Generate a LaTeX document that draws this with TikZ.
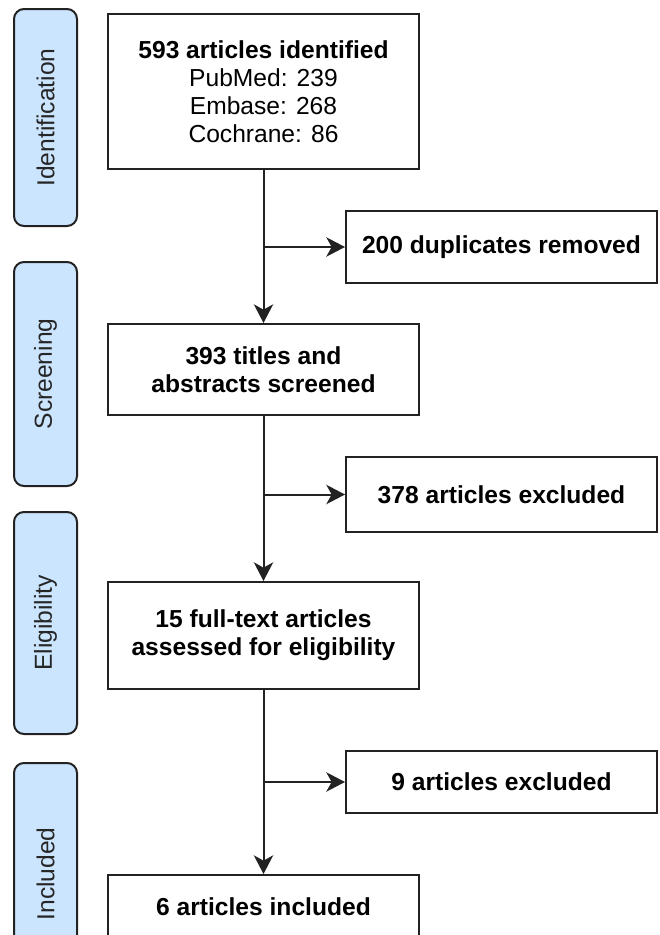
\documentclass[tikz,border=0pt]{standalone}
\usepackage{fontspec}
\setmainfont{Liberation Sans}
\usepackage{xcolor}
\usetikzlibrary{arrows.meta}

\definecolor{phaseblue}{RGB}{204,229,255}
\definecolor{linegray}{RGB}{34,34,34}
\newcommand{\boxfont}{\fontsize{18.45pt}{21pt}\selectfont}

\tikzset{
  phasebox/.style={draw=linegray,fill=phaseblue,text=black!85,rounded corners=7.5pt,rotate=90,minimum height=47.25pt,inner sep=0pt,font=\boxfont},
  mainbox/.style={draw=linegray,align=center,text=black,minimum width=233.25pt,inner sep=0pt,font=\boxfont\bfseries},
  flow/.style={draw=linegray,-{Stealth[length=14pt,width=14.5pt,inset=4pt]}},
}

\begin{document}
\begin{tikzpicture}[x=0.75pt,y=-0.75pt,line width=1.5pt]
\useasboundingbox (0,0) rectangle (660,935);

% phases
\node[phasebox,minimum width=162.75pt] (PhaseIdent) at (45.5,117.5) {Identification};
\node[phasebox,minimum width=168pt] (PhaseScreen) at (45.5,374) {Screening};
\node[phasebox,minimum width=166.5pt] (PhaseElig) at (45.5,623) {Eligibility};
\node[phasebox,minimum width=166.5pt] (PhaseIncl) at (45.5,874) {Included};

% records kept
\node[mainbox,font=\boxfont,minimum height=116.25pt] (RecordsA) at (263.5,91.5) {\textbf{593 articles identified}\\PubMed: 239\\Embase: 268\\Cochrane: 86};
\node[mainbox,minimum height=68.25pt] (RecordsB) at (263.5,369.5) {393 titles and\\abstracts screened};
\node[mainbox,minimum height=80.25pt] (RecordsC) at (263.5,635.5) {15 full-text articles\\assessed for eligibility};
\node[mainbox,minimum height=48pt] (RecordsD) at (263.5,907) {6 articles included};

% records removed
\node[mainbox,minimum height=54pt] (RemovedA) at (501.5,247) {200 duplicates removed};
\node[mainbox,minimum height=56.25pt] (RemovedB) at (501.5,494.5) {378 articles excluded};
\node[mainbox,minimum height=46.5pt] (RemovedC) at (501.5,782) {9 articles excluded};

\coordinate (SplitA) at (RecordsA.south |- RemovedA.west);
\coordinate (SplitB) at (RecordsB.south |- RemovedB.west);
\coordinate (SplitC) at (RecordsC.south |- RemovedC.west);

\draw[flow] (RecordsA) -- (RecordsB);
\draw[flow] (RecordsB) -- (RecordsC);
\draw[flow] (RecordsC) -- (RecordsD);

\draw[flow] (SplitA) -- (RemovedA);
\draw[flow] (SplitB) -- (RemovedB);
\draw[flow] (SplitC) -- (RemovedC);

\end{tikzpicture}
\end{document}
